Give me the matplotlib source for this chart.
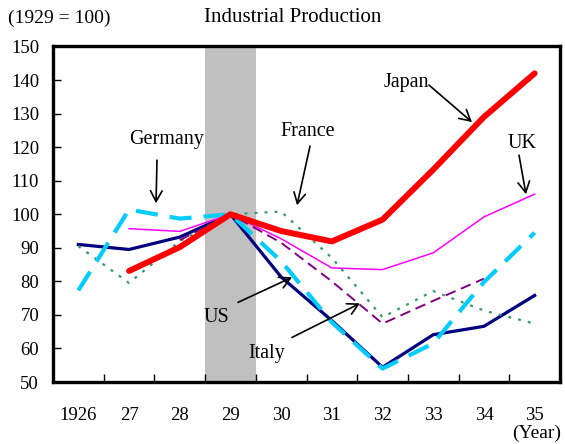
import matplotlib
matplotlib.use("Agg")
import matplotlib.pyplot as plt
import numpy as np

plt.rcParams['font.family'] = ['Liberation Serif', 'DejaVu Serif']

years = ['1926', '27', '28', '29', '30', '31', '32', '33', '34', '35']
us      = [91.0, 89.5, 93.2, 100, 81.3, 68.3, 54.4, 64.1, 66.6, 75.8]
germany = [77.3, 101.4, 98.7, 100, 86.0, 67.8, 54.0, 61.5, 79.8, 94.5]
uk      = [np.nan, 95.7, 94.9, 100, 92.7, 84.0, 83.5, 88.5, 99.2, 106.0]
france  = [90.5, 79.5, 92.0, 100, 100.8, 87.0, 69.3, 77.1, 71.3, 67.4]
italy   = [np.nan, np.nan, 92.3, 100, 91.5, 80.0, 67.4, 74.2, 80.8, np.nan]
japan   = [np.nan, 83.1, 90.2, 100, 95.0, 91.9, 98.4, 113.3, 129.0, 142.0]

fig = plt.figure(figsize=(5.65, 4.44), dpi=100)
ax = fig.add_axes([53/565, 1-382/444, 507/565, (382-46.5)/444])

x = np.arange(len(years))
ax.axvspan(2.5, 3.5, color='#C0C0C0', zorder=0, lw=0)

ax.plot(x, us, color='#000080', lw=2.3, zorder=3)
ax.plot(x, uk, color='#FF00FF', lw=1.1, zorder=3)
ax.plot(x, france, color='#339966', lw=1.6, linestyle=(0, (1.3, 3.2)), zorder=3)
ax.plot(x, italy, color='#800080', lw=1.4, linestyle=(0, (5.5, 3.0)), zorder=3)
ax.plot(x, germany, color='#00CCFF', lw=3.0, linestyle=(0, (5.3, 2.9)),
        dash_capstyle='butt', zorder=4)
ax.plot(x, japan, color='#FF0000', lw=4.3, zorder=5, solid_capstyle='round')

ax.set_xlim(-0.5, 9.5)
ax.set_ylim(50, 150)
ax.set_yticks(np.arange(50, 151, 10))
ax.set_xticks(x)
ax.set_xticklabels(years)
ax.set_xticks(np.arange(0.5, 9.0, 1.0), minor=True)
ax.tick_params(axis='x', which='major', length=0, pad=18, labelsize=13.5)
ax.tick_params(axis='x', which='minor', direction='in', length=6, width=1)
ax.tick_params(axis='y', which='major', direction='in', length=6, width=1,
               pad=10, labelsize=13.5)
for s in ax.spines.values():
    s.set_linewidth(2.4)
    s.set_color('black')

fs = 14.5
def label(txt, px, py):
    ax.text((px - 53) / 50.7 - 0.5, 150 - (py - 46.5) / 3.35, txt,
            ha='center', va='center', fontsize=fs, zorder=6)

def arrow(p0, p1):
    x0 = (p0[0] - 53) / 50.7 - 0.5
    y0 = 150 - (p0[1] - 46.5) / 3.35
    x1 = (p1[0] - 53) / 50.7 - 0.5
    y1 = 150 - (p1[1] - 46.5) / 3.35
    ax.annotate('', xy=(x1, y1), xytext=(x0, y0),
                arrowprops=dict(arrowstyle='->,head_length=0.55,head_width=0.3',
                                color='black', lw=1.2, mutation_scale=14,
                                shrinkA=0, shrinkB=0), zorder=6)

label('Germany', 167, 139)
arrow((157, 160), (156, 203))
label('France', 308, 131)
arrow((310, 146), (297, 205))
label('Japan', 406, 82)
arrow((429, 85), (472, 122))
label('UK', 522, 143)
arrow((519, 155), (526, 194))
label('US', 216, 317)
arrow((238, 302), (292, 277))
label('Italy', 267, 353)
arrow((292, 337), (360, 303))

fig.text(293/565, 1-18/444, 'Industrial Production', ha='center', va='center', fontsize=15)
fig.text(8/565, 1-18/444, '(1929 = 100)', ha='left', va='center', fontsize=14)
fig.text(537/565, 1-433/444, '(Year)', ha='center', va='center', fontsize=14)

fig.savefig('out.png', dpi=100)
